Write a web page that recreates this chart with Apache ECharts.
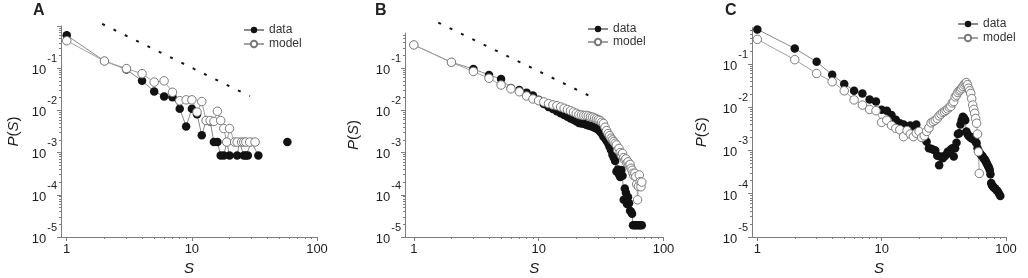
<!DOCTYPE html>
<html>
<head>
<meta charset="utf-8">
<script src="https://cdn.jsdelivr.net/npm/echarts@6/dist/echarts.min.js"></script>
<style>
  html, body { margin: 0; padding: 0; background: #fff; }
  #chart { width: 1028px; height: 278px; }
</style>
</head>
<body>
<div id="chart"></div>
<script>
// P(S) is read off the log axis, so it is kept as its log10 exponent
// panel A
const aDataS = [1, 2, 3, 4, 5, 6, 7, 8, 9, 10, 11, 12, 13, 14, 15, 16, 17, 18, 19, 20, 23, 24, 26, 27, 28, 30, 34, 45, 58]
const aDataExp = [-0.22, -0.83, -1.03, -1.30, -1.55, -1.67, -1.69, -1.96, -2.38, -1.96, -2.09, -2.59, -2.24, -2.26, -2.75, -2.75, -3.07, -3.07, -2.75, -3.07, -3.07, -2.75, -3.07, -3.07, -3.07, -2.75, -3.07, null, -2.75]
const aModelS = [1, 2, 3, 4, 5, 6, 7, 8, 9, 10, 11, 12, 13, 14, 15, 16, 17, 18, 19, 20, 22, 23, 25, 26, 27, 29, 32]
const aModelExp = [-0.35, -0.83, -1.01, -1.13, -1.33, -1.30, -1.57, -1.77, -1.75, -1.75, -2.04, -1.79, -2.24, -2.24, -2.26, -2.02, -2.24, -2.43, -2.75, -2.43, -2.75, -2.75, -2.75, -2.75, -2.75, -2.75, -2.75]
const aGuideS = [1.92, 29.1]
const aGuideP = [1.12, 0.0217]

// panel B
const bDataS = [1, 2, 3, 4, 5, 6, 7, 8, 9, 10, 11, 12, 13, 14, 15, 16, 17, 18, 19, 20,
  21, 22, 23, 24, 25, 26, 27, 28, 29, 30, 31, 32, 33, 34, 35, 36, 37, 38, 39, 40,
  41, 42, 43, 44, 45, 46, 47, 48, 49, 50, 51, 52, 53, 54, 55, 56, 57, 59, 61, 63, 65, 67]
const bDataExp = [-0.45, -0.86, -1.02, -1.16, -1.26, -1.47, -1.52, -1.58, -1.65, -1.75, -1.85, -1.92, -1.97, -2.02, -2.07, -2.11, -2.15, -2.19, -2.22, -2.26,
  -2.30, -2.31, -2.32, -2.34, -2.36, -2.37, -2.39, -2.41, -2.43, -2.46, -2.50, -2.55, -2.62, -2.66, -2.72, -2.78, -2.86, -2.94, -3.05, -3.12,
  -3.20, -3.45, -3.40, -3.52, -3.58, -3.41, -3.55, -4.12, -3.85, -3.95, -4.22, -4.05, -4.20, -4.38, -4.40, -4.45, -4.72, -4.72, -4.72, -4.72, -4.72, -4.72]
const bModelS = [1, 2, 3, 4, 5, 6, 7, 8, 9, 10, 11, 12, 13, 14, 15, 16, 17, 18, 19, 20,
  21, 22, 23, 24, 25, 26, 27, 28, 29, 30, 31, 32, 33, 34, 35, 36, 37, 38, 39, 40,
  41, 42, 43, 44, 45, 46, 47, 48, 49, 50, 51, 52, 53, 54, 55, 56, 57, 58, 59, 60,
  61, 62, 63, 64, 65, 66, 67]
const bModelExp = [-0.45, -0.86, -1.08, -1.24, -1.40, -1.49, -1.56, -1.66, -1.73, -1.77, -1.80, -1.84, -1.87, -1.89, -1.92, -1.95, -1.98, -2.01, -2.04, -2.07,
  -2.10, -2.11, -2.12, -2.12, -2.13, -2.15, -2.16, -2.18, -2.20, -2.22, -2.24, -2.28, -2.31, -2.40, -2.48, -2.55, -2.60, -2.66, -2.70, -2.74,
  -2.78, -2.82, -2.94, -2.90, -3.00, -3.06, -3.02, -3.12, -3.18, -3.15, -3.25, -3.22, -3.30, -3.28, -3.37, -3.42, -3.49, -3.55, -3.49, -3.57,
  -3.75, -4.12, -3.80, -3.53, -3.69, -3.81, -3.70]
const bGuideS = [1.57, 25.7]
const bGuideP = [1.2, 0.0219]

// panel C
const cDataS = [1, 2, 3, 4, 5, 6, 7, 8, 9, 10, 11, 12, 13, 14, 15, 16, 17, 18, 19, 20,
  21, 22, 23, 24, 25, 26, 27, 28, 29, 30, 31, 32, 33, 34, 35, 36, 37, 38, 39, 40,
  41, 42, 43, 44, 45, 46, 47, 48, 49, 50, 51, 52, 53, 54, 55, 56, 57, 58, 59, 60,
  61, 62, 63, 64, 65, 66, 67, 68, 69, 70, 71, 72, 73, 74, 75, 76, 77, 78, 79, 80,
  82, 84, 86, 88, 90]
const cDataExp = [-0.20, -0.64, -0.95, -1.25, -1.46, -1.62, -1.68, -1.82, -1.87, -2.06, -2.08, -2.18, -2.29, -2.37, -2.40, -2.45, -2.42, -2.45, -2.40, -2.62,
  -2.68, -2.72, -2.80, -2.95, -2.96, -2.98, -3.00, -3.12, -3.34, -3.14, -3.18, -3.14, -3.10, -3.03, -3.05, -2.98, -2.95, -3.14, -2.95, -2.82,
  -2.62, -2.60, -2.40, -2.30, -2.22, -2.25, -2.30, -2.56, -2.62, -2.66, -2.68, -2.70, -2.72, -2.70, -2.74, -2.76, -2.80, -2.83, -2.95, -3.00,
  -3.05, -3.07, -3.10, -3.12, -3.14, -3.18, -3.20, -3.22, -3.26, -3.30, -3.33, -3.37, -3.40, -3.45, -3.55, -3.75, -3.80, -3.82, -3.84, -3.86,
  -3.88, -3.92, -3.95, -4.00, -4.05]
const cModelS = [1, 2, 3, 4, 5, 6, 7, 8, 9, 10, 11, 12, 13, 14, 15, 16, 17, 18, 19, 20,
  21, 22, 23, 24, 25, 26, 27, 28, 29, 30, 31, 32, 33, 34, 35, 36, 37, 38, 39, 40,
  41, 42, 43, 44, 45, 46, 47, 48, 49, 50, 51, 52, 53, 54, 55, 56, 57, 58, 59, 60, 61]
const cModelExp = [-0.43, -0.90, -1.22, -1.41, -1.62, -1.83, -1.95, -2.05, -2.08, -2.35, -2.30, -2.42, -2.49, -2.52, -2.68, -2.54, -2.62, -2.68, -2.60, -2.56,
  -2.70, -2.66, -2.56, -2.48, -2.36, -2.33, -2.30, -2.26, -2.20, -2.16, -2.12, -2.10, -2.07, -2.04, -2.00, -1.98, -1.90, -1.87, -1.76, -1.72,
  -1.66, -1.62, -1.60, -1.56, -1.52, -1.48, -1.45, -1.43, -1.48, -1.56, -1.62, -1.68, -1.80, -1.95, -2.05, -2.14, -2.26, -2.37, -2.62, -3.03, -3.53]

// axis ticks and labels
const xMajor = [1, 10, 100]
const xMinor = [2, 3, 4, 5, 6, 7, 8, 9, 20, 30, 40, 50, 60, 70, 80, 90]
const yMajor = [1, 1e-1, 1e-2, 1e-3, 1e-4, 1e-5]
const yLabels = [1e-1, 1e-2, 1e-3, 1e-4, 1e-5]
const yMinor = [1e-5, 1e-4, 1e-3, 1e-2, 1e-1].flatMap(d => [2, 3, 4, 5, 6, 7, 8, 9].map(k => k * d))

const panels = [
  { letter: 'A', grid: { left: 61, top: 26, width: 256, height: 211 }, xMin: 0.9, yMax: 1,
    data: [aDataS, aDataExp], model: [aModelS, aModelExp], guide: [aGuideS, aGuideP],
    letterPos: [33, 3], legendPos: [243, 24], legendGap: 2, nameGap: 40 },
  { letter: 'B', grid: { left: 405, top: 33, width: 258.5, height: 204 }, xMin: 0.85, yMax: 0.68,
    data: [bDataS, bDataExp], model: [bModelS, bModelExp], guide: [bGuideS, bGuideP],
    letterPos: [375, 3], legendPos: [587, 23], legendGap: 1, nameGap: 44 },
  { letter: 'C', grid: { left: 752, top: 27.7, width: 254, height: 209.3 }, xMin: 0.906, yMax: 0.69,
    data: [cDataS, cDataExp], model: [cModelS, cModelExp], guide: null,
    letterPos: [725, 3], legendPos: [957, 18], legendGap: 2, nameGap: 43 },
]

const AXIS = '#7d7d7d'
const TEXT = '#1c1c1c'
const FONT = '"Liberation Sans", Arial, sans-serif'

const toPoints = (s, e) => s.map((x, i) => (e[i] == null ? [x, '-'] : [x, Math.pow(10, e[i])]))

const grids = [], xAxes = [], yAxes = [], series = [], titles = [], legends = []

panels.forEach((p, g) => {
  grids.push({ ...p.grid, outerBoundsMode: 'none', containLabel: false })

  xAxes.push({
    type: 'log', gridIndex: g, position: 'bottom', min: p.xMin, max: 100,
    axisLine: { show: true, lineStyle: { color: AXIS, width: 1 } },
    axisTick: { show: true, length: 4, customValues: xMajor, lineStyle: { color: AXIS } },
    axisLabel: { customValues: xMajor, formatter: v => String(Math.round(v)), color: TEXT, fontSize: 13, fontFamily: FONT, margin: 6 },
    splitLine: { show: false },
    name: 'S', nameLocation: 'middle', nameGap: 21,
    nameTextStyle: { fontStyle: 'italic', fontSize: 15, color: TEXT, fontFamily: FONT },
  })
  xAxes.push({
    type: 'log', gridIndex: g, position: 'bottom', offset: 0, min: p.xMin, max: 100,
    axisLine: { show: false },
    axisTick: { show: true, length: 2, customValues: xMinor, lineStyle: { color: AXIS } },
    axisLabel: { show: false }, splitLine: { show: false },
  })

  yAxes.push({
    type: 'log', gridIndex: g, position: 'left', min: 1e-5, max: p.yMax,
    axisLine: { show: true, lineStyle: { color: AXIS, width: 1 } },
    axisTick: { show: true, length: 4, customValues: yMajor.filter(v => v <= p.yMax), lineStyle: { color: AXIS } },
    axisLabel: {
      customValues: yLabels, margin: 4, padding: [0, 0, 6, 0],
      formatter: v => '{b|10}{s|' + Math.round(Math.log10(v)) + '}',
      rich: {
        b: { fontSize: 13, lineHeight: 23.5, verticalAlign: 'bottom', color: TEXT, fontFamily: FONT },
        s: { fontSize: 11, lineHeight: 11, verticalAlign: 'top', padding: [0, 0, 0, 1], color: TEXT, fontFamily: FONT },
      },
    },
    splitLine: { show: false },
    name: '{i|P}({i|S})', nameLocation: 'middle', nameRotate: 90, nameGap: p.nameGap,
    nameTextStyle: { fontSize: 15, color: TEXT, fontFamily: FONT, rich: { i: { fontStyle: 'italic', fontSize: 15, color: TEXT, fontFamily: FONT } } },
  })
  yAxes.push({
    type: 'log', gridIndex: g, position: 'left', offset: 0, min: 1e-5, max: p.yMax,
    axisLine: { show: false },
    axisTick: { show: true, length: 2, customValues: yMinor.filter(v => v <= p.yMax), lineStyle: { color: AXIS } },
    axisLabel: { show: false }, splitLine: { show: false },
  })

  if (p.guide) {
    series.push({
      type: 'line', xAxisIndex: 2 * g, yAxisIndex: 2 * g, clip: false, silent: true,
      data: p.guide[0].map((x, i) => [x, p.guide[1][i]]),
      symbol: 'none', lineStyle: { color: '#161616', width: 2, type: [3, 9.6] },
    })
  }
  series.push({
    name: 'data', type: 'line', xAxisIndex: 2 * g, yAxisIndex: 2 * g,
    data: toPoints(p.data[0], p.data[1]), connectNulls: false,
    symbol: 'circle', symbolSize: 8.5, showSymbol: true,
    itemStyle: { color: '#121212' }, lineStyle: { color: '#8a8a8a', width: 1 },
    emphasis: { disabled: true },
  })
  series.push({
    name: 'model', type: 'line', xAxisIndex: 2 * g, yAxisIndex: 2 * g,
    data: toPoints(p.model[0], p.model[1]),
    symbol: 'circle', symbolSize: 8.5, showSymbol: true,
    itemStyle: { color: '#ffffff', borderColor: '#7a7a7a', borderWidth: 1 }, lineStyle: { color: '#a2a2a2', width: 1 },
    emphasis: { disabled: true },
  })

  titles.push({ text: p.letter, left: p.letterPos[0], top: p.letterPos[1], padding: 0,
    textStyle: { fontSize: 16, fontWeight: 'bold', color: '#222', fontFamily: FONT } })
  legends.push({
    data: ['data', 'model'], orient: 'vertical', left: p.legendPos[0], top: p.legendPos[1], padding: 0,
    itemWidth: 20, itemHeight: 8, itemGap: p.legendGap, selectedMode: false,
    textStyle: { fontSize: 12, color: '#333', fontFamily: FONT },
  })
})

const chart = echarts.init(document.getElementById('chart'))
chart.setOption({
  animation: false,
  backgroundColor: '#fff',
  title: titles,
  legend: legends,
  grid: grids,
  xAxis: xAxes,
  yAxis: yAxes,
  series: series,
})
window.addEventListener('resize', () => chart.resize())
</script>
</body>
</html>
